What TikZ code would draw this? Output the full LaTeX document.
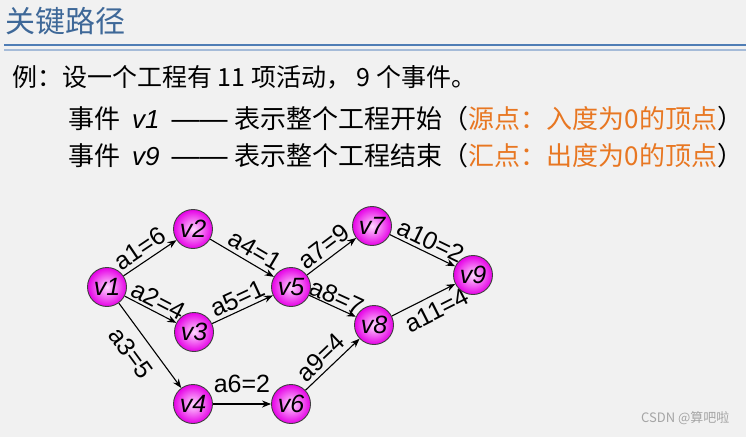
\documentclass[tikz,border=0pt]{standalone}
\usepackage{fontspec}
\setmainfont{Noto Sans CJK SC}
\newfontfamily\evfont{Liberation Sans}
\usetikzlibrary{arrows.meta, positioning, backgrounds}
\definecolor{bgGray}{RGB}{241,241,241}
\definecolor{ttlBlue}{RGB}{62,104,152}
\definecolor{ruleBlue}{RGB}{79,125,181}
\definecolor{ruleLight}{RGB}{165,187,216}
\definecolor{srcOrange}{RGB}{232,119,34}
\definecolor{evInner}{RGB}{255,215,255}
\definecolor{evOuter}{RGB}{230,0,230}
\definecolor{wmGray}{RGB}{165,165,165}
\tikzset{
  event/.style={circle, minimum size=39pt, inner sep=0pt,
    draw=black!75, line width=0.9pt,
    shading=radial, inner color=evInner, outer color=evOuter,
    font=\evfont\itshape\fontsize{25}{25}\selectfont},
  act/.style={-{Stealth[length=9pt,width=7pt]}, line width=1.1pt, color=black},
  alabel/.style={font=\evfont\fontsize{25}{25}\selectfont, sloped, inner sep=4pt},
  txtline/.style={font=\fontsize{25}{30}\selectfont, anchor=base west, inner sep=0pt},
}
\newcommand{\ev}[1]{{\evfont\itshape #1}}
\newcommand{\dashbar}{{\evfont\fontsize{28}{28}\selectfont ——}}

\begin{document}
\begin{tikzpicture}[x=1pt, y=1pt]
\useasboundingbox (0,0) rectangle (746,437);

% heading
\node[txtline, font=\fontsize{30}{34}\selectfont, text=ttlBlue] (ttl) at (5,404) {关键路径};
\draw[ruleBlue, line width=1.8pt] (4,392) -- (746,392);
\draw[ruleLight, line width=1.4pt] (4,387) -- (746,387);

% text
\node[txtline] (L1) at (12,350) {例：设一个工程有 11 项活动， 9 个事件。};
\node[txtline, font=\fontsize{26}{30}\selectfont] (L2) at (68,308)
  {事件\hspace{12pt}\ev{v1}\hspace{12pt}\dashbar\hspace{7pt}表示整个工程开始（{\color{srcOrange}源点：入度为0的顶点}）};
\node[txtline, font=\fontsize{26}{30}\selectfont] (L3) at (68,271)
  {事件\hspace{12pt}\ev{v9}\hspace{12pt}\dashbar\hspace{7pt}表示整个工程结束（{\color{srcOrange}汇点：出度为0的顶点}）};

% events
\node[event] (v1) at (107,150) {v1};
\node[event] (v2) at (193,208) {v2};
\node[event] (v3) at (194,105) {v3};
\node[event] (v4) at (193,33)  {v4};
\node[event] (v5) at (291,150) {v5};
\node[event] (v6) at (291,33)  {v6};
\node[event] (v7) at (372,211) {v7};
\node[event] (v8) at (374,112) {v8};
\node[event] (v9) at (473,162) {v9};

\node[font=\fontsize{13}{13}\selectfont, text=wmGray, anchor=east] (wm) at (733,19)
  {CSDN @算吧啦};

% activities
\begin{pgfonlayer}{background}
  \fill[bgGray] (0,0) rectangle (746,437);
  \draw[act] (v1) -- node[alabel, above, pos=0.45] {a1=6} (v2);
  \draw[act] (v1) -- node[alabel, above, pos=0.55, inner sep=2pt] {a2=4} (v3);
  \draw[act] (v1) -- node[alabel, below, pos=0.45, inner sep=10pt] {a3=5} (v4);
  \draw[act] (v2) -- node[alabel, above, pos=0.6] {a4=1} (v5);
  \draw[act] (v3) -- node[alabel, above, inner sep=3pt] {a5=1} (v5);
  \draw[act] (v4) -- node[alabel, above, inner sep=11pt] {a6=2} (v6);
  \draw[act] (v5) -- node[alabel, above, inner sep=3pt] {a7=9} (v7);
  \draw[act] (v5) -- node[alabel, above, pos=0.5, inner sep=0.5pt] {a8=7} (v8);
  \draw[act] (v6) -- node[alabel, above, pos=0.45] {a9=4} (v8);
  \draw[act] (v7) -- node[alabel, above, pos=0.55, inner sep=3pt] {a10=2} (v9);
  \draw[act] (v8) -- node[alabel, below, pos=0.6, inner sep=6pt] {a11=4} (v9);
\end{pgfonlayer}

\end{tikzpicture}
\end{document}
